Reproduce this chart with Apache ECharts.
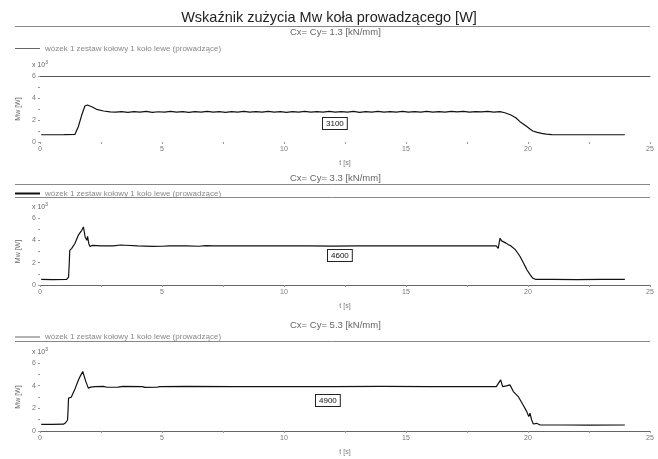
<!DOCTYPE html>
<html>
<head>
<meta charset="utf-8">
<script src="https://cdn.jsdelivr.net/npm/echarts@6/dist/echarts.min.js"></script>
<style>
  html, body { margin: 0; padding: 0; background: #fff; }
  #chart { width: 658px; height: 459px; }
</style>
</head>
<body>
<div id="chart"></div>
<script>
// Wear index Mw of the guiding wheel for three suspension stiffness settings
const mainTitle = 'Wskaźnik zużycia Mw koła prowadzącego [W]';
const seriesName = 'wózek 1 zestaw kołowy 1 koło lewe (prowadzące)';
const stiffness = ['1.3', '3.3', '5.3'];          // Cx = Cy [kN/mm]
const meanPower = [3100, 4600, 4900];             // boxed values [W]
const xTicks = [0, 5, 10, 15, 20, 25];            // t [s]
const yTicks = [0, 2, 4, 6];                      // Mw x 10^3 [W]

// Cx = Cy = 1.3 kN/mm
const time1 = [0.05, 0.5, 1.0, 1.43, 1.57, 1.71, 1.84, 1.94, 2.12, 2.32, 2.6, 2.87,
  3.1, 3.35, 3.6, 3.85, 4.1, 4.35, 4.6, 4.85, 5.1, 5.35, 5.6, 5.85, 6.1, 6.35, 6.6, 6.85,
  7.1, 7.35, 7.6, 7.85, 8.1, 8.35, 8.6, 8.85, 9.1, 9.35, 9.6, 9.85, 10.1, 10.35, 10.6, 10.85,
  11.1, 11.35, 11.6, 11.85, 12.1, 12.35, 12.6, 12.85, 13.1, 13.35, 13.6, 13.85, 14.1, 14.35, 14.6, 14.85,
  15.1, 15.35, 15.6, 15.85, 16.1, 16.35, 16.6, 16.85, 17.1, 17.35, 17.6, 17.85, 18.1, 18.35, 18.6, 18.85,
  19.05, 19.3, 19.5, 19.67, 19.82, 19.95, 20.08, 20.2, 20.38, 20.56, 20.75, 20.97, 21.5, 22.5, 23.97];
const mw1 = [0.66, 0.66, 0.67, 0.68, 1.39, 2.45, 3.27, 3.36, 3.2, 2.97, 2.82, 2.74,
  2.72, 2.77, 2.70, 2.76, 2.71, 2.78, 2.70, 2.75, 2.72, 2.79, 2.71, 2.76, 2.70, 2.77, 2.72, 2.78,
  2.71, 2.76, 2.70, 2.77, 2.72, 2.79, 2.71, 2.76, 2.72, 2.78, 2.71, 2.77, 2.70, 2.76, 2.72, 2.78,
  2.71, 2.77, 2.72, 2.79, 2.71, 2.76, 2.72, 2.78, 2.70, 2.77, 2.72, 2.78, 2.71, 2.76, 2.72, 2.79,
  2.71, 2.77, 2.72, 2.78, 2.71, 2.76, 2.72, 2.79, 2.73, 2.78, 2.72, 2.77, 2.73, 2.79, 2.72, 2.76,
  2.66, 2.45, 2.2, 1.85, 1.62, 1.4, 1.18, 1.0, 0.87, 0.79, 0.72, 0.67, 0.66, 0.66, 0.66];

// Cx = Cy = 3.3 kN/mm
const time2 = [0.05, 0.5, 1.09, 1.17, 1.2, 1.22, 1.3, 1.43, 1.57, 1.71, 1.78, 1.85, 1.92, 1.95,
  2.0, 2.05, 2.1, 2.15, 2.2, 2.5, 3.0, 3.3, 3.5, 4.0, 4.6, 5.0, 5.3, 6.0, 6.5, 6.8, 7.1,
  8, 9, 10, 11, 12, 13, 14, 15, 16, 17, 18, 18.7,
  18.78, 18.85, 18.92, 18.98, 19.1, 19.2, 19.3, 19.47, 19.6, 19.68, 19.75, 19.82, 19.86, 19.9,
  19.96, 20.02, 20.1, 20.2, 20.3, 21, 22, 23, 23.97];
const mw2 = [0.5, 0.48, 0.5, 0.7, 2.0, 3.1, 3.28, 3.72, 4.46, 4.9, 5.2, 4.3, 4.0, 4.35,
  3.7, 3.45, 3.37, 3.55, 3.48, 3.5, 3.5, 3.58, 3.56, 3.5, 3.46, 3.47, 3.5, 3.5, 3.47, 3.53, 3.5,
  3.5, 3.51, 3.5, 3.5, 3.49, 3.5, 3.51, 3.5, 3.5, 3.5, 3.5, 3.5,
  3.28, 4.17, 3.95, 3.87, 3.75, 3.6, 3.5, 3.19, 2.8, 2.53, 2.4, 1.94, 2.1, 1.6,
  1.34, 1.45, 0.89, 0.6, 0.51, 0.5, 0.49, 0.5, 0.5];

// Cx = Cy = 5.3 kN/mm
const time3 = [0.05, 0.5, 0.96, 1.05, 1.13, 1.15, 1.17, 1.28, 1.42, 1.55, 1.64, 1.75, 1.88, 1.98,
  2.08, 2.25, 2.6, 2.75, 3.2, 3.4, 4.2, 4.3, 4.8, 4.9, 6, 8, 10, 12, 14, 16, 18, 18.7,
  18.78, 18.88, 18.96, 19.12, 19.26, 19.4, 19.6, 19.8, 19.95, 20.03, 20.08, 20.15, 20.22, 20.35, 20.5,
  21.5, 22.5, 23.97];
const mw3 = [0.58, 0.58, 0.6, 0.73, 0.97, 1.8, 2.9, 2.98, 3.63, 4.36, 4.8, 5.25, 4.36, 3.78,
  3.87, 3.92, 3.93, 3.86, 3.87, 3.93, 3.92, 3.85, 3.86, 3.92, 3.93, 3.92, 3.92, 3.92, 3.93, 3.92, 3.92, 3.92,
  3.78, 4.51, 3.92, 3.98, 4.07, 3.48, 3.04, 2.3, 1.71, 1.27, 1.57, 0.97, 0.62, 0.68, 0.53,
  0.53, 0.52, 0.53];

const times = [time1, time2, time3];
const values = [mw1, mw2, mw3];

const FONT = 'Liberation Sans';
const grey = '#777';
const gridTops = [76, 218, 363];
const gridHeights = [66, 67, 68];
const subtitleTops = [28, 174, 321];
const legendTops = [44.5, 189.5, 333];
const boxPos = [[322, 117], [327, 249], [315, 394]];

const chart = echarts.init(document.getElementById('chart'), null, { renderer: 'canvas' });

const grids = gridTops.map((t, i) => ({ left: 40, right: 8, top: t, height: gridHeights[i] }));

const xAxes = [0, 1, 2].map(i => ({
  gridIndex: i, type: 'value',
  min: xTicks[0], max: xTicks[xTicks.length - 1], interval: xTicks[1] - xTicks[0],
  name: 't [s]', nameLocation: 'middle', nameGap: 18,
  nameTextStyle: { fontSize: 7, color: grey, fontFamily: FONT },
  axisLine: { show: i > 0, lineStyle: { color: '#666', width: 1 } },
  axisTick: { show: true, length: 2, lineStyle: { color: '#999' } },
  minorTick: { show: true, splitNumber: 2, length: 2, lineStyle: { color: '#999' } },
  splitLine: { show: false },
  axisLabel: { fontSize: 7, color: grey, margin: 4, fontFamily: FONT }
}));
// frame line along the top of the first panel
xAxes.push({
  gridIndex: 0, type: 'value', position: 'top', min: 0, max: 25,
  axisLine: { show: true, lineStyle: { color: '#555', width: 1 } },
  axisTick: { show: false }, axisLabel: { show: false }, splitLine: { show: false }
});

const yAxes = [0, 1, 2].map(i => ({
  gridIndex: i, type: 'value',
  min: yTicks[0], max: yTicks[yTicks.length - 1], interval: yTicks[1] - yTicks[0],
  name: 'Mw [W]', nameLocation: 'middle', nameGap: 17,
  nameTextStyle: { fontSize: 7, color: '#666', fontFamily: FONT },
  axisLine: { show: false },
  axisTick: { show: true, length: 2, lineStyle: { color: '#999' } },
  minorTick: { show: true, splitNumber: 2, length: 2, lineStyle: { color: '#999' } },
  splitLine: { show: false },
  axisLabel: { fontSize: 7, color: grey, margin: 4, fontFamily: FONT }
}));

const series = [0, 1, 2].map(i => ({
  name: seriesName, type: 'line', xAxisIndex: i, yAxisIndex: i,
  data: times[i].map((t, k) => [t, values[i][k]]),
  showSymbol: false, symbol: 'none', smooth: false,
  lineStyle: { color: '#111', width: 1.2 },
  itemStyle: { color: '#111' },
  emphasis: { disabled: true },
  animation: false
}));

const titles = [{
  text: mainTitle, left: 'center', top: 10, padding: 0,
  textStyle: { fontSize: 14.5, fontWeight: 'normal', color: '#222', fontFamily: FONT }
}];
stiffness.forEach((s, i) => {
  titles.push({
    text: 'Cx= Cy= ' + s + ' [kN/mm]', left: 290, top: subtitleTops[i] - 1, padding: 0,
    textStyle: { fontSize: 9.5, fontWeight: 'normal', color: '#666', fontFamily: FONT }
  });
  titles.push({
    text: 'x 10{s|3}', left: 32, top: gridTops[i] - 16, padding: 0,
    textStyle: {
      fontSize: 7, fontWeight: 'normal', color: '#666', fontFamily: FONT,
      rich: { s: { fontSize: 5, color: '#666', padding: [0, 0, 5, 0], fontFamily: FONT } }
    }
  });
});

const legends = [0, 1, 2].map(i => ({
  top: legendTops[i], left: 15, padding: 0, icon: 'rect',
  itemWidth: 25, itemHeight: i === 1 ? 2 : 1, itemGap: 5,
  selectedMode: false,
  data: [{ name: seriesName, itemStyle: { color: i === 1 ? '#111' : '#666' } }],
  textStyle: { fontSize: 8, color: '#888', fontFamily: FONT, padding: [0, 0, 0, 0] }
}));

const sepLines = [26.5, 184.5, 197.5, 341.5].map(y => ({
  type: 'line', silent: true,
  shape: { x1: 15, y1: y, x2: 650, y2: y },
  style: { stroke: '#888', lineWidth: 1 }
}));

const boxes = meanPower.map((v, i) => ({
  type: 'text', silent: true, left: boxPos[i][0], top: boxPos[i][1],
  style: {
    text: String(v), fill: '#111', font: '8px "Liberation Sans"',
    backgroundColor: '#fff', borderColor: '#222', borderWidth: 1, padding: [2, 3, 1, 3]
  }
}));

chart.setOption({
  animation: false,
  backgroundColor: '#fff',
  textStyle: { fontFamily: FONT },
  title: titles,
  legend: legends,
  grid: grids,
  xAxis: xAxes,
  yAxis: yAxes,
  series: series,
  graphic: sepLines.concat(boxes)
});
</script>
</body>
</html>
